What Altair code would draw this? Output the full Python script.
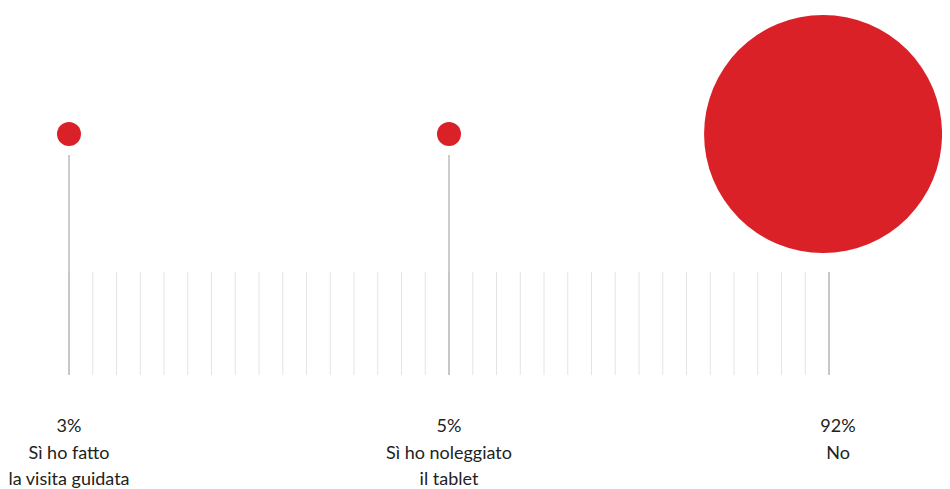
import altair as alt
import pandas as pd

categories = ["Sì ho fatto\nla visita guidata", "Sì ho noleggiato\nil tablet", "No"]
values = [3, 5, 92]
positions = [0, 16, 32]          # slot on the 32-step ruler
ruler_steps = list(range(33))    # minor ruler lines

RED = "#DA2128"

cats = pd.DataFrame({"label": categories, "value": values, "pos": positions})
ticks = pd.DataFrame({"t": ruler_steps})

xscale = alt.Scale(domain=[0, 32], range=[61, 821])

minor = alt.Chart(ticks).mark_rule(color="#e4e4e4", strokeWidth=1).encode(
    x=alt.X("t:Q", scale=xscale, axis=None),
    y=alt.value(264),
    y2=alt.value(367),
)

stems = alt.Chart(cats).transform_calculate(
    top="datum.value > 50 ? 264 : 147"
).mark_rule(color="#ababab", strokeWidth=1.2).encode(
    x=alt.X("pos:Q", scale=xscale, axis=None),
    y=alt.Y("top:Q", scale=None),
    y2=alt.value(367),
)

bubbles = alt.Chart(cats).transform_calculate(
    cx="datum.pos - (datum.value > 50 ? 0.25 : 0)"
).mark_circle(color=RED, opacity=1).encode(
    x=alt.X("cx:Q", scale=xscale, axis=None),
    y=alt.value(126),
    size=alt.Size("value:Q", scale=alt.Scale(domain=[5, 92], range=[576, 56644],
                                             clamp=True, zero=False), legend=None),
)

labels = alt.Chart(cats).transform_calculate(
    txt="datum.value + '%\\n' + datum.label",
    lx="datum.pos + (datum.value > 50 ? 0.38 : 0)",
).mark_text(
    lineBreak="\n", align="center", baseline="alphabetic",
    font="Lato", fontSize=18, lineHeight=26.5, color="#222222",
).encode(
    x=alt.X("lx:Q", scale=xscale, axis=None),
    y=alt.value(424),
    text="txt:N",
)

chart = alt.layer(minor, stems, bubbles, labels).properties(
    width=934, height=481,
    autosize=alt.AutoSizeParams(type="none"),
    padding=0,
    background="white",
).configure_view(stroke=None)

chart.save("out.html", embed_options={"renderer": "svg", "actions": False})
